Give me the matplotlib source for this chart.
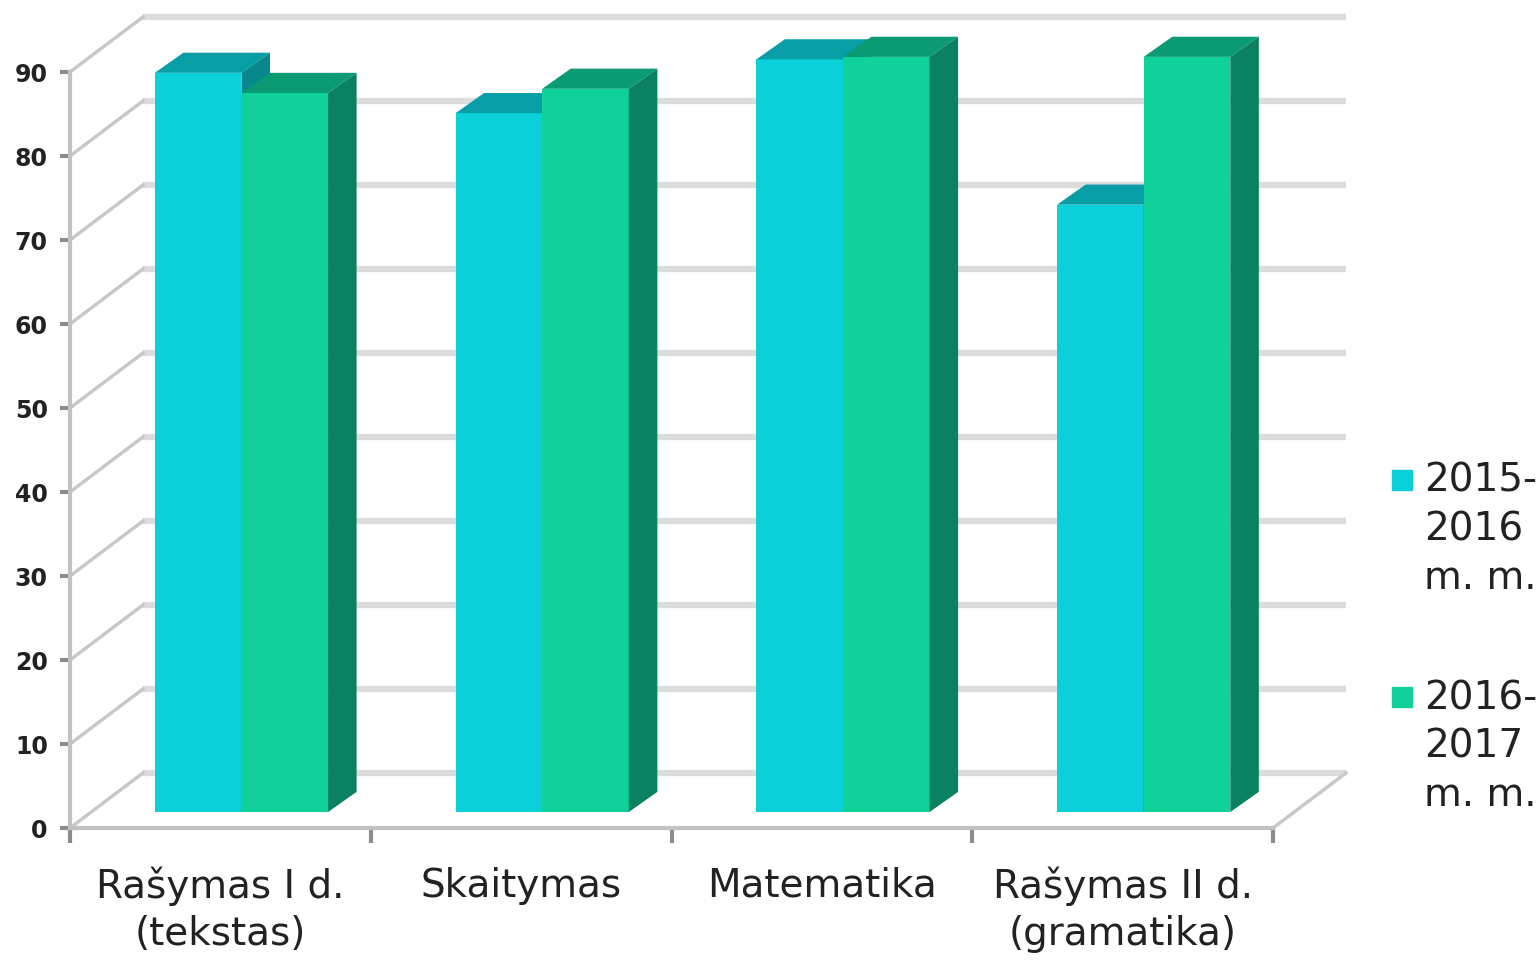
import matplotlib
matplotlib.use("Agg")
import matplotlib.pyplot as plt
from matplotlib.patches import Polygon, Rectangle
import numpy as np

# ---- data -------------------------------------------------------------------
categories = ["Rašymas I d.\n(tekstas)", "Skaitymas", "Matematika",
              "Rašymas II d.\n(gramatika)"]
series = ["2015-\n2016\nm. m.", "2016-\n2017\nm. m."]
vals_1516 = [88.0, 83.2, 89.6, 72.3]
vals_1617 = [85.6, 86.1, 89.9, 89.9]
yticks = list(range(0, 100, 10))

FRONT = ["#0BD0D9", "#11D19A"]
TOP = ["#089EA6", "#0B9B72"]
SIDE = ["#07888E", "#0A8261"]

WALL_DX, WALL_DY = 0.2427, 6.55     # floor depth (fake 3-d)
BAR_DX, BAR_DY = 0.095, 2.4         # bar depth
BAR_X0, BAR_Y0 = 0.07, 1.9          # bars stand a bit behind the front edge
BAR_W = 0.288

fig = plt.figure(figsize=(15.37, 9.6), dpi=100)
ax = fig.add_axes([70 / 1537, 132 / 960, 1203 / 1537, 756 / 960])
ax.set_xlim(0, len(categories))
ax.set_ylim(0, 90)
ax.patch.set_visible(False)
for s in ("top", "right"):
    ax.spines[s].set_visible(False)
for s in ("left", "bottom"):
    ax.spines[s].set_color("#C2C2C2")
    ax.spines[s].set_linewidth(3)

# ---- back wall + side wall grid -----------------------------------------------
for v in yticks:
    ax.plot([WALL_DX, len(categories) + WALL_DX], [v + WALL_DY] * 2,
            color="#DCDCDC", lw=4.5, clip_on=False, zorder=1,
            solid_capstyle="butt")
    ax.plot([0, WALL_DX], [v, v + WALL_DY], color="#C8C8C8", lw=2.5,
            clip_on=False, zorder=1)
ax.plot([len(categories), len(categories) + WALL_DX], [0, WALL_DY],
        color="#C8C8C8", lw=2.5, clip_on=False, zorder=1)

# ---- bars ----------------------------------------------------------------------
x = np.arange(len(categories))
for j, vals in enumerate([vals_1516, vals_1617]):
    left = x + 0.5 + BAR_X0 - BAR_W + j * BAR_W
    z = 3 + j
    ax.bar(left, vals, width=BAR_W, bottom=BAR_Y0, align="edge",
           color=FRONT[j], clip_on=False, zorder=z)
    for l, v in zip(left, vals):
        top = BAR_Y0 + v
        r = l + BAR_W
        ax.add_patch(Polygon([(l, top), (r, top), (r + BAR_DX, top + BAR_DY),
                              (l + BAR_DX, top + BAR_DY)],
                             color=TOP[j], clip_on=False, zorder=z, lw=0))
        ax.add_patch(Polygon([(r, BAR_Y0), (r + BAR_DX, BAR_Y0 + BAR_DY),
                              (r + BAR_DX, top + BAR_DY), (r, top)],
                             color=SIDE[j], clip_on=False, zorder=z, lw=0))

# ---- ticks ---------------------------------------------------------------------
ax.set_yticks(yticks)
ax.tick_params(axis="y", length=7, width=3, color="#8C8C8C", pad=9,
               labelsize=17, labelcolor="#222222")
for t in ax.get_yticklabels():
    t.set_fontweight("bold")
ax.set_xticks(range(len(categories) + 1))
ax.set_xticklabels([])
ax.tick_params(axis="x", which="major", length=11, width=3, color="#8C8C8C")
ax.set_xticks(x + 0.5, minor=True)
ax.set_xticklabels(categories, minor=True)
ax.tick_params(axis="x", which="minor", length=0, pad=28, labelsize=28,
               labelcolor="#222222")
for t in ax.get_xticklabels(minor=True):
    t.set_linespacing(1.3)

# ---- legend (square aligned with first line, like the original) ----------------
for j, (lab, ytop) in enumerate(zip(series, [462, 679])):
    fig.add_artist(Rectangle((1392 / 1537, 1 - (ytop + 28) / 960),
                             20 / 1537, 20 / 960, color=FRONT[j],
                             transform=fig.transFigure))
    fig.text(1424 / 1537, 1 - ytop / 960, lab, fontsize=28, va="top",
             ha="left", color="#222222", linespacing=1.35)

fig.savefig("out.png", dpi=100, facecolor="white")
